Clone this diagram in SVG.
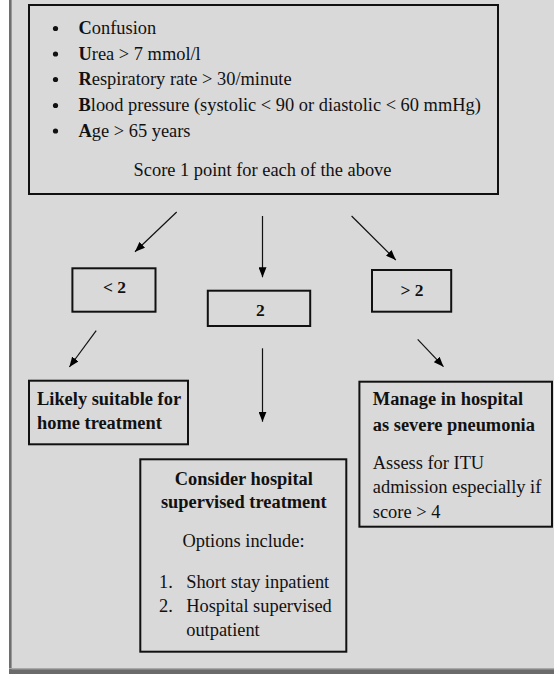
<svg xmlns="http://www.w3.org/2000/svg" width="554" height="674" viewBox="0 0 554 674">
<defs>
<marker id="ah" markerUnits="userSpaceOnUse" markerWidth="10" markerHeight="8" refX="10" refY="4" orient="auto">
<path d="M0,0 L10,4 L0,8 z" fill="#000"/>
</marker>
</defs>
<style>
text{font-family:"Liberation Serif","Times New Roman",serif;font-size:18.4px;fill:#111}
.b{font-weight:bold}
.c{text-anchor:middle}
.box{fill:none;stroke:#111;stroke-width:2}
.dot{fill:#111}
.conn line{stroke:#111;stroke-width:1.2;marker-end:url(#ah)}
</style>
<rect x="0" y="0" width="554" height="674" fill="#d9d9d9"/>
<rect x="0" y="0" width="9" height="674" fill="#ffffff"/>
<rect x="9" y="0" width="2.6" height="674" fill="#6e6e6e"/>
<rect x="9" y="668" width="545" height="1.3" fill="#a8a8a8"/>
<rect x="9" y="669.3" width="545" height="4.7" fill="#6b6b6b"/>

<g id="curb">
<rect class="box" x="29" y="5" width="469" height="189"/>
<circle class="dot" cx="55.5" cy="28.5" r="2.6"/><text x="78.5" y="34"><tspan class="b">C</tspan>onfusion</text>
<circle class="dot" cx="55.5" cy="54" r="2.6"/><text x="78.5" y="59.5"><tspan class="b">U</tspan>rea &gt; 7 mmol/l</text>
<circle class="dot" cx="55.5" cy="79.5" r="2.6"/><text x="78.5" y="85"><tspan class="b">R</tspan>espiratory rate &gt; 30/minute</text>
<circle class="dot" cx="55.5" cy="105.5" r="2.6"/><text x="78.5" y="111"><tspan class="b">B</tspan>lood pressure (systolic &lt; 90 or diastolic &lt; 60 mmHg)</text>
<circle class="dot" cx="55.5" cy="131" r="2.6"/><text x="78.5" y="136.5"><tspan class="b">A</tspan>ge &gt; 65 years</text>
<text class="c" x="262.5" y="176">Score 1 point for each of the above</text>
</g>

<g id="lt2">
<rect class="box" x="72.4" y="268.3" width="83.1" height="43.4"/>
<text class="b c" x="114.5" y="293" style="font-size:17.5px">&lt; 2</text>
</g>
<g id="eq2">
<rect class="box" x="207.8" y="290.7" width="102.4" height="35.3"/>
<text class="b c" x="260.4" y="316" style="font-size:17.5px">2</text>
</g>
<g id="gt2">
<rect class="box" x="372" y="270" width="79.2" height="41.7"/>
<text class="b c" x="412" y="296" style="font-size:17.5px">&gt; 2</text>
</g>

<g id="home">
<rect class="box" x="29" y="380.7" width="159" height="63.6"/>
<text class="b" x="37" y="405">Likely suitable for</text>
<text class="b" x="37" y="429.3">home treatment</text>
</g>

<g id="consider">
<rect class="box" x="140.3" y="459.3" width="206" height="192.4"/>
<text class="b c" x="243.8" y="485">Consider hospital</text>
<text class="b c" x="243.8" y="508.3">supervised treatment</text>
<text class="c" x="243.5" y="547.3">Options include:</text>
<text x="159" y="587.7">1.</text><text x="186.2" y="587.7">Short stay inpatient</text>
<text x="159" y="612.3">2.</text><text x="186.2" y="612.3">Hospital supervised</text>
<text x="186.2" y="636">outpatient</text>
</g>

<g id="severe">
<rect class="box" x="359.4" y="381.7" width="192.6" height="145"/>
<text class="b" x="372.8" y="405">Manage in hospital</text>
<text class="b" x="372.8" y="430.7">as severe pneumonia</text>
<text x="372.8" y="469.3">Assess for ITU</text>
<text x="372.8" y="493.3">admission especially if</text>
<text x="372.8" y="518.3">score &gt; 4</text>
</g>

<g id="connectors" class="conn">
<line x1="176.7" y1="212" x2="135" y2="251.7"/>
<line x1="262.5" y1="216" x2="262.5" y2="277.3"/>
<line x1="351.6" y1="216" x2="395.8" y2="260"/>
<line x1="96.2" y1="330.7" x2="69.4" y2="367"/>
<line x1="262.5" y1="348.3" x2="262.5" y2="421.7"/>
<line x1="417.7" y1="339.3" x2="443.5" y2="366.7"/>
</g>
</svg>
